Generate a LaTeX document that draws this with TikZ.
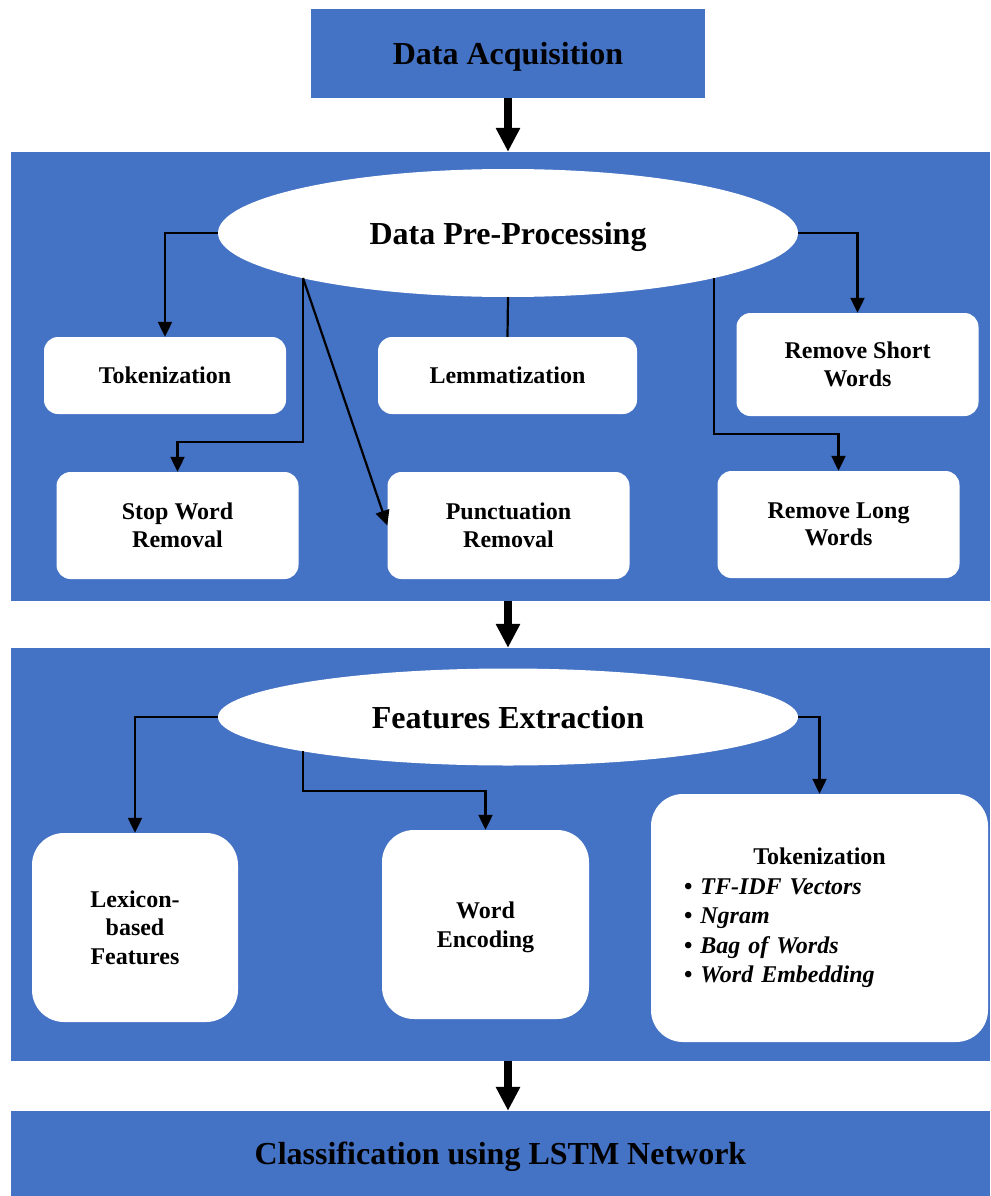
\documentclass[tikz,border=0pt]{standalone}
\usepackage{fontspec}
\setmainfont{Liberation Serif}
\usepackage{xcolor}
\usepackage{tikz}
\usetikzlibrary{shapes.geometric, arrows.meta, positioning, calc}

\definecolor{panelblue}{HTML}{4472C4}

\begin{document}
\begin{tikzpicture}[
    x=1pt, y=-1pt,
    every node/.style={inner sep=0pt},
    stage/.style={rectangle, fill=panelblue, text depth=0pt, font=\fontsize{32}{36}\selectfont\bfseries},
    panel/.style={rectangle, fill=panelblue, minimum width=979pt},
    oval/.style={ellipse, fill=white, minimum width=580pt, text depth=0pt, font=\fontsize{32}{36}\selectfont\bfseries},
    stepbox/.style={rectangle, rounded corners=14pt, fill=white, minimum width=242pt, align=center, font=\fontsize{24}{27.5}\selectfont\bfseries},
    featbox/.style={rectangle, rounded corners=32pt, fill=white, align=center, font=\fontsize{24}{28.5}\selectfont\bfseries},
    link/.style={-{Triangle[width=14pt, length=15pt]}, line width=2.2pt},
    plain/.style={line width=2.2pt},
    bigarrow/.style={-{Triangle[width=23pt, length=24pt]}, line width=8pt}
]
\useasboundingbox (0,0) rectangle (990,1196);

% Stages
\node[stage, minimum width=394pt, minimum height=89pt] (acq) at (508,53.5) {Data Acquisition};
\node[panel, minimum height=449pt] (prep) at (500.5,376.5) {};
\node[panel, minimum height=413pt] (feat) at (500.5,854.5) {};
\node[stage, minimum width=979pt, minimum height=85pt] (lstm) at (500.5,1153.5) {Classification using LSTM Network};

% Pre-processing
\node[oval, minimum height=128pt] (pp) at (508,233) {Data Pre-Processing};
\node[stepbox, minimum height=77pt] (tok) at (165,375.5) {Tokenization};
\node[stepbox, minimum width=259pt, minimum height=77pt] (lem) at (507.5,375.5) {Lemmatization};
\node[stepbox, minimum height=103pt] (rshort) at (857.5,364.5) {Remove Short\\Words};
\node[stepbox, minimum height=107pt] (stop) at (177.5,525.5) {Stop Word\\Removal};
\node[stepbox, minimum height=107pt] (punc) at (508.5,525.5) {Punctuation\\Removal};
\node[stepbox, minimum height=107pt] (rlong) at (838.5,524.5) {Remove Long\\Words};

% Features
\node[oval, minimum height=97pt] (fe) at (508,717) {Features Extraction};
\node[featbox, minimum width=206pt, minimum height=189pt, text depth=0pt] (lex) at (135,927.5) {Lexicon-\\based\\Features};
\node[featbox, minimum width=207pt, minimum height=189pt, text depth=0pt] (enc) at (485.5,924.5) {Word\\Encoding};
\node[featbox, minimum width=337pt, minimum height=248pt, text width=271pt, inner xsep=33pt, align=left,
      font=\fontsize{24}{29.5}\selectfont\bfseries] (tokfeat) at (819.5,918) {%
  \makebox[271pt]{Tokenization}\\
  \textbullet\hspace{8pt}\textit{TF-IDF Vectors}\\
  \textbullet\hspace{8pt}\textit{Ngram}\\
  \textbullet\hspace{8pt}\textit{Bag of Words}\\
  \textbullet\hspace{8pt}\textit{Word Embedding}};

% Branch points
\coordinate (ppL) at ($(pp.center)+(-205,45)$);
\coordinate (ppR) at ($(pp.center)+(206,45)$);
\coordinate (feL) at ($(fe.center)+(-205,34)$);

% Arrows
\draw[bigarrow] (acq.south) -- (acq.south |- prep.north);
\draw[bigarrow] (acq.south |- prep.south) -- (acq.south |- feat.north);
\draw[bigarrow] (acq.south |- feat.south) -- (acq.south |- lstm.north);

\draw[link] (pp.west) -| (tok.north);
\draw[link] (ppL) -- ++(0,164) -| (stop.north);
\draw[link] (ppL) -- (punc.west);
\draw[plain] (pp.south) -- (lem.north);
\draw[link] (pp.east) -| (rshort.north);
\draw[link] (ppR) -- ++(0,156) -| (rlong.north);

\draw[link] (fe.west) -| (lex.north);
\draw[link] (feL) -- ++(0,40) -| (enc.north);
\draw[link] (fe.east) -| (tokfeat.north);

\end{tikzpicture}
\end{document}
